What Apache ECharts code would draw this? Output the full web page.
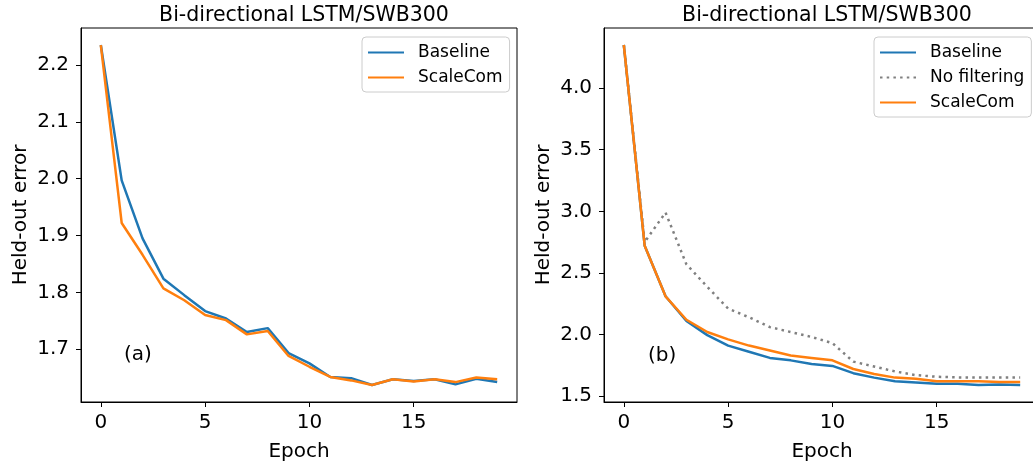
<!DOCTYPE html>
<html>
<head>
<meta charset="utf-8">
<script src="https://cdn.jsdelivr.net/npm/echarts@6/dist/echarts.min.js"></script>
<style>
  html, body { margin: 0; padding: 0; background: #fff; }
  #chart { width: 1033px; height: 463px; }
</style>
</head>
<body>
<div id="chart"></div>
<script>
// data
var epochs = [0, 1, 2, 3, 4, 5, 6, 7, 8, 9, 10, 11, 12, 13, 14, 15, 16, 17, 18, 19];

// (a) left panel
var leftBaseline = [2.235, 1.997, 1.895, 1.824, 1.795, 1.767, 1.754, 1.730, 1.737, 1.693, 1.675, 1.651, 1.649, 1.637, 1.647, 1.644, 1.647, 1.638, 1.648, 1.642];
var leftScaleCom = [2.235, 1.922, 1.866, 1.807, 1.786, 1.760, 1.751, 1.726, 1.732, 1.688, 1.669, 1.651, 1.645, 1.637, 1.647, 1.643, 1.647, 1.642, 1.650, 1.647];

// (b) right panel
var rightBaseline = [4.35, 2.72, 2.31, 2.11, 1.995, 1.91, 1.86, 1.81, 1.79, 1.76, 1.745, 1.686, 1.65, 1.62, 1.61, 1.60, 1.60, 1.59, 1.595, 1.59];
var rightNoFilter = [4.35, 2.75, 2.99, 2.57, 2.387, 2.21, 2.14, 2.06, 2.02, 1.98, 1.93, 1.78, 1.74, 1.70, 1.67, 1.657, 1.652, 1.65, 1.65, 1.65];
var rightScaleCom = [4.35, 2.72, 2.31, 2.12, 2.02, 1.96, 1.91, 1.87, 1.83, 1.81, 1.79, 1.72, 1.68, 1.65, 1.64, 1.62, 1.62, 1.62, 1.615, 1.615];

var xTicks = [0, 5, 10, 15];
var leftYTicks = [1.7, 1.8, 1.9, 2.0, 2.1, 2.2];
var rightYTicks = [1.5, 2.0, 2.5, 3.0, 3.5, 4.0];

var titleText = 'Bi-directional LSTM/SWB300';
var FONT = 'DejaVu Sans';
var FS = 20;

function pairs(ys) {
    return epochs.map(function (e, i) { return [e, ys[i]]; });
}

var chart = echarts.init(document.getElementById('chart'), null, { renderer: 'canvas' });

function xAxisFor(idx) {
    return {
        gridIndex: idx,
        type: 'value',
        min: -0.95,
        max: 19.95,
        name: 'Epoch',
        nameLocation: 'middle',
        nameGap: 40,
        nameTextStyle: { color: '#000', fontSize: FS, fontFamily: FONT },
        splitLine: { show: false },
        axisLine: { show: true, onZero: false, lineStyle: { color: '#000', width: 1 } },
        axisTick: { show: true, inside: false, length: 5, customValues: xTicks, lineStyle: { color: '#000' } },
        axisLabel: {
            customValues: xTicks,
            margin: 11,
            color: '#000', fontSize: FS, fontFamily: FONT,
            formatter: function (v) { return String(v); }
        }
    };
}

function yAxisFor(idx, min, max, ticks) {
    return {
        gridIndex: idx,
        type: 'value',
        min: min,
        max: max,
        name: 'Held-out error',
        nameLocation: 'middle',
        nameGap: 50,
        nameRotate: 90,
        nameTextStyle: { color: '#000', fontSize: FS, fontFamily: FONT },
        splitLine: { show: false },
        axisLine: { show: true, onZero: false, lineStyle: { color: '#000', width: 1 } },
        axisTick: { show: true, inside: false, length: 5, customValues: ticks, lineStyle: { color: '#000' } },
        axisLabel: {
            customValues: ticks,
            margin: 12,
            color: '#000', fontSize: FS, fontFamily: FONT,
            formatter: function (v) { return v.toFixed(1); }
        }
    };
}

function lineSeries(name, idx, ys, color, dotted) {
    return {
        name: name,
        type: 'line',
        xAxisIndex: idx,
        yAxisIndex: idx,
        data: pairs(ys),
        symbol: 'none',
        silent: true,
        animation: false,
        lineStyle: {
            color: color,
            width: 2.5,
            type: dotted ? [2.5, 4.2] : 'solid'
        },
        itemStyle: { color: color }
    };
}

var legendCommon = {
    orient: 'vertical',
    show: true,
    itemWidth: 36,
    itemHeight: 12,
    itemGap: 8,
    backgroundColor: '#fff',
    borderColor: '#cccccc',
    borderWidth: 1,
    borderRadius: 4,
    padding: [7, 7, 6, 5],
    itemStyle: { opacity: 0 },
    textStyle: { color: '#000', fontSize: 17, fontFamily: FONT, padding: [0, 0, 0, 9] },
    selectedMode: false
};

var option = {
    backgroundColor: '#fff',
    animation: false,
    title: [
        { text: titleText, left: 299, top: 0, textAlign: 'center',
          textStyle: { fontSize: 20.5, fontWeight: 'normal', color: '#000', fontFamily: FONT } },
        { text: titleText, left: 822, top: 0, textAlign: 'center',
          textStyle: { fontSize: 20.5, fontWeight: 'normal', color: '#000', fontFamily: FONT } }
    ],
    grid: [
        { left: 81, top: 28, width: 436, height: 374, outerBoundsMode: 'none', containLabel: false,
          show: true, borderColor: '#000', borderWidth: 1 },
        { left: 604, top: 28, width: 436, height: 374, outerBoundsMode: 'none', containLabel: false,
          show: true, borderColor: '#000', borderWidth: 1 }
    ],
    legend: [
        Object.assign({}, legendCommon, {
            data: ['Baseline', 'ScaleCom'],
            left: 362, top: 37
        }),
        Object.assign({}, legendCommon, {
            data: ['Baseline ', 'No filtering', 'ScaleCom '],
            left: 874, top: 37
        })
    ],
    xAxis: [xAxisFor(0), xAxisFor(1)],
    yAxis: [
        yAxisFor(0, 1.607, 2.265, leftYTicks),
        yAxisFor(1, 1.452, 4.488, rightYTicks)
    ],
    series: [
        lineSeries('Baseline', 0, leftBaseline, '#1f77b4'),
        lineSeries('ScaleCom', 0, leftScaleCom, '#ff7f0e'),
        lineSeries('Baseline ', 1, rightBaseline, '#1f77b4'),
        lineSeries('No filtering', 1, rightNoFilter, '#808080', true),
        lineSeries('ScaleCom ', 1, rightScaleCom, '#ff7f0e')
    ],
    graphic: [
        { type: 'text', left: 124, top: 345, style: { text: '(a)', fontSize: FS, fontFamily: FONT, fill: '#000' } },
        { type: 'text', left: 648, top: 346, style: { text: '(b)', fontSize: FS, fontFamily: FONT, fill: '#000' } }
    ]
};

chart.setOption(option);
window.addEventListener('resize', function () { chart.resize(); });
</script>
</body>
</html>
